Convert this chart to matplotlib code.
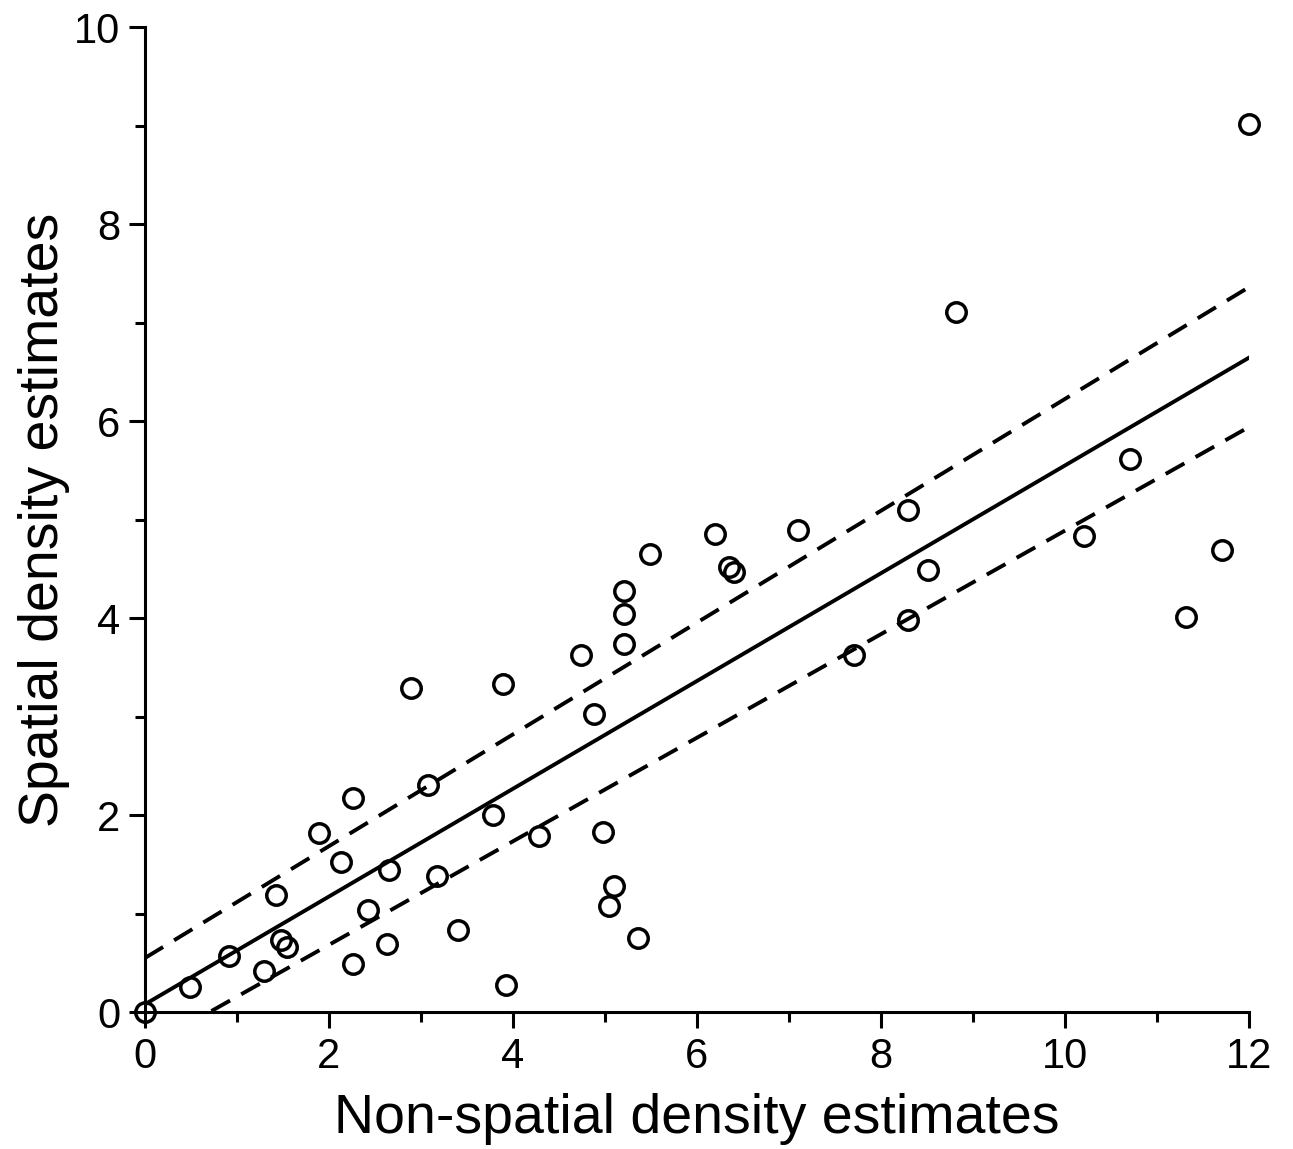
import numpy as np
import matplotlib
matplotlib.use("Agg")
import matplotlib.pyplot as plt
from matplotlib.ticker import MultipleLocator

# observed estimates
non_spatial = [0.0, 0.49, 0.91, 1.30, 1.43, 1.48, 1.54, 1.89, 2.13, 2.26, 2.26, 2.43,
               2.63, 2.65, 2.89, 3.08, 3.17, 3.40, 3.78, 3.89, 3.92, 4.28, 4.74, 4.88,
               4.98, 5.04, 5.10, 5.21, 5.21, 5.21, 5.36, 5.49, 6.20, 6.35, 6.40, 7.10,
               7.71, 8.29, 8.29, 8.51, 8.82, 10.21, 10.71, 11.32, 11.71, 12.0]
spatial = [0.0, 0.26, 0.57, 0.42, 1.19, 0.73, 0.66, 1.82, 1.53, 2.17, 0.49, 1.04,
           0.69, 1.44, 3.29, 2.31, 1.38, 0.83, 2.00, 3.33, 0.28, 1.79, 3.63, 3.03,
           1.83, 1.08, 1.28, 3.74, 4.04, 4.28, 0.75, 4.65, 4.85, 4.52, 4.47, 4.89,
           3.63, 5.10, 3.98, 4.49, 7.11, 4.83, 5.62, 4.01, 4.69, 9.02]

# fitted line and bands (intercept, slope)
fit = (0.08, 0.547)
upper = (0.55, 0.5675)
lower = (-0.368, 0.5257)

plt.rcParams["font.family"] = ["Liberation Sans", "DejaVu Sans"]

fig = plt.figure(figsize=(12.93, 11.49), dpi=100)
ax = fig.add_axes([0.112, 0.119, 0.854, 0.8575])

xs = np.linspace(0, 12, 200)
ax.plot(xs, fit[0] + fit[1] * xs, color="black", lw=2.8)
ax.plot(xs, upper[0] + upper[1] * xs, color="black", lw=2.8, dashes=(5.5, 3.3))
xl = xs[lower[0] + lower[1] * xs >= 0]
ax.plot(xl, lower[0] + lower[1] * xl, color="black", lw=2.8, dashes=(5.5, 3.3))

ax.plot(non_spatial, spatial, "o", mfc="none", mec="black", ms=14, mew=2.5,
        clip_on=False, zorder=5)

ax.set_xlim(0, 12)
ax.set_ylim(0, 10)
ax.xaxis.set_major_locator(MultipleLocator(2))
ax.xaxis.set_minor_locator(MultipleLocator(1))
ax.yaxis.set_major_locator(MultipleLocator(2))
ax.yaxis.set_minor_locator(MultipleLocator(1))

for s in ["top", "right"]:
    ax.spines[s].set_visible(False)
for s in ["left", "bottom"]:
    ax.spines[s].set_linewidth(2.2)

ax.tick_params(which="major", direction="out", length=11.5, width=2.2,
               labelsize=30, pad=6)
ax.tick_params(which="minor", direction="out", length=7, width=2.2)

ax.set_xlabel("Non-spatial density estimates", fontsize=40, labelpad=12)
ax.set_ylabel("Spatial density estimates", fontsize=40, labelpad=3)

fig.savefig("out.png", dpi=100)
